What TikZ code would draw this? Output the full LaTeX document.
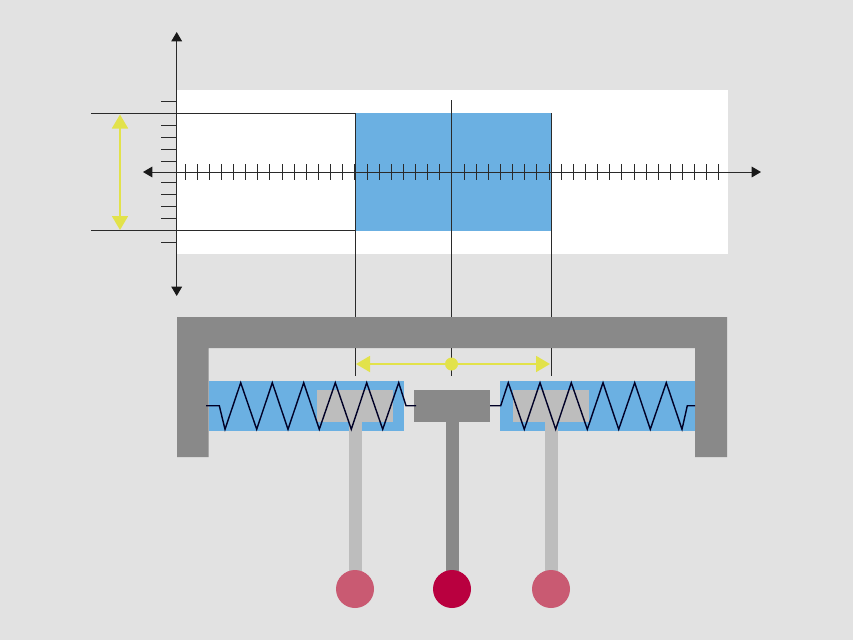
\documentclass[tikz,border=0pt]{standalone}
\usetikzlibrary{arrows.meta}
\definecolor{bgc}{HTML}{E2E2E2}
\definecolor{bluec}{HTML}{6BB0E2}
\definecolor{framec}{HTML}{898989}
\definecolor{slidec}{HTML}{BDBDBD}
\definecolor{linec}{HTML}{2A2A2A}
\definecolor{yel}{HTML}{E2E24A}
\definecolor{pinkc}{HTML}{C95A72}
\definecolor{redc}{HTML}{B9003F}
\tikzset{
  thin line/.style={draw=linec,line width=0.75pt},
  axis line/.style={draw=linec,line width=0.75pt,{Triangle[length=7pt,width=8pt,black!90]}-{Triangle[length=7pt,width=8pt,black!90]}},
  tickmark/.style={draw=linec,line width=0.75pt},
  measure/.style={draw=yel,line width=1.4pt,{Triangle[length=10.5pt,width=12pt,yel]}-{Triangle[length=10.5pt,width=12pt,yel]}},
  springline/.style={draw=black!85!blue,line width=1.05pt,line join=miter},
  ball/.style={circle,minimum size=28.5pt,inner sep=0pt,draw=none}
}
\begin{document}
\begin{tikzpicture}[x=0.75pt,y=-0.75pt]
\fill[bgc] (0,0) rectangle (853,640);
\useasboundingbox (0,0) rectangle (853,640);
% plot area
\fill[white] (177,89.5) rectangle (728,253.5);
\fill[bluec] (355,113) rectangle (551,230.5);
% frame
\fill[framec] (177,457) -- (177,317) -- (727,317) -- (727,457) -- (695,457) -- (695,348) -- (208.5,348) -- (208.5,457) -- cycle;
% spring housings
\fill[bluec] (208.5,381) rectangle (404,431);
\fill[bluec] (500,381) rectangle (695,431);
% rods
\fill[slidec] (349.3,421) rectangle (362,571);
\fill[slidec] (545,421) rectangle (557.5,571);
\fill[framec] (445.7,421) rectangle (458.5,571);
% sliders and T head
\fill[slidec] (317,390) rectangle (393,421.7);
\fill[slidec] (512.7,390) rectangle (589,421.7);
\fill[framec] (414,390) rectangle (490,421.7);
% guide lines
\draw[thin line] (91,113) -- (355,113);
\draw[thin line] (91,230.5) -- (355,230.5);
\draw[thin line] (355,113) -- (355,317);
\draw[thin line] (451.5,100) -- (451.5,317);
\draw[thin line] (551,113) -- (551,317);
\draw[thin line] (355,348) -- (355,376);
\draw[thin line] (451.5,348) -- (451.5,376);
\draw[thin line] (551,348) -- (551,376);
% axes
\coordinate (xl) at (143,172);
\coordinate (xr) at (761,172);
\coordinate (yt) at (176.7,32);
\coordinate (yb) at (176.7,296);
\draw[axis line] (xl) -- (xr);
\draw[axis line] (yt) -- (yb);
\foreach \i in {0,...,44}{
  \draw[tickmark] ({185+\i*12.136},164) -- ({185+\i*12.136},180);
}
\foreach \yy in {101,125.3,137.4,149.6,161.7,182,194.3,206.5,218.7,242.8}{
  \draw[tickmark] (161,\yy) -- (177,\yy);
}
% yellow measures
\coordinate (m1) at (120,114.5);
\coordinate (m2) at (120,230);
\draw[measure] (m1) -- (m2);
\coordinate (m3) at (356,364);
\coordinate (m4) at (550,364);
\draw[measure] (m3) -- (m4);
\fill[yel] (451.5,364) circle[radius=6.5];
% springs
\draw[springline] (206,405.7) -- (219.3,405.7) -- (225,429.3) -- (240.7,382.7) -- (256.7,429.3) -- (272.3,382.7) -- (288,429.3) -- (303.7,382.7) -- (319.3,429.3) -- (335.3,382.7) -- (351.3,429.3) -- (366.7,382.7) -- (382.7,429.3) -- (398.7,382.7) -- (406,405.7) -- (416,405.7);
\draw[springline] (490,405.7) -- (500.7,405.7) -- (508.3,382.7) -- (524.3,429.3) -- (540,382.7) -- (555.7,429.3) -- (571.3,382.7) -- (587.3,429.3) -- (603,382.7) -- (618.7,429.3) -- (634.7,382.7) -- (650.3,429.3) -- (666.3,382.7) -- (682,429.3) -- (687.3,405.7) -- (695,405.7);
% balls
\node[ball,fill=pinkc] (b1) at (355,589) {};
\node[ball,fill=redc] (b2) at (452,589) {};
\node[ball,fill=pinkc] (b3) at (551,589) {};
\end{tikzpicture}
\end{document}
